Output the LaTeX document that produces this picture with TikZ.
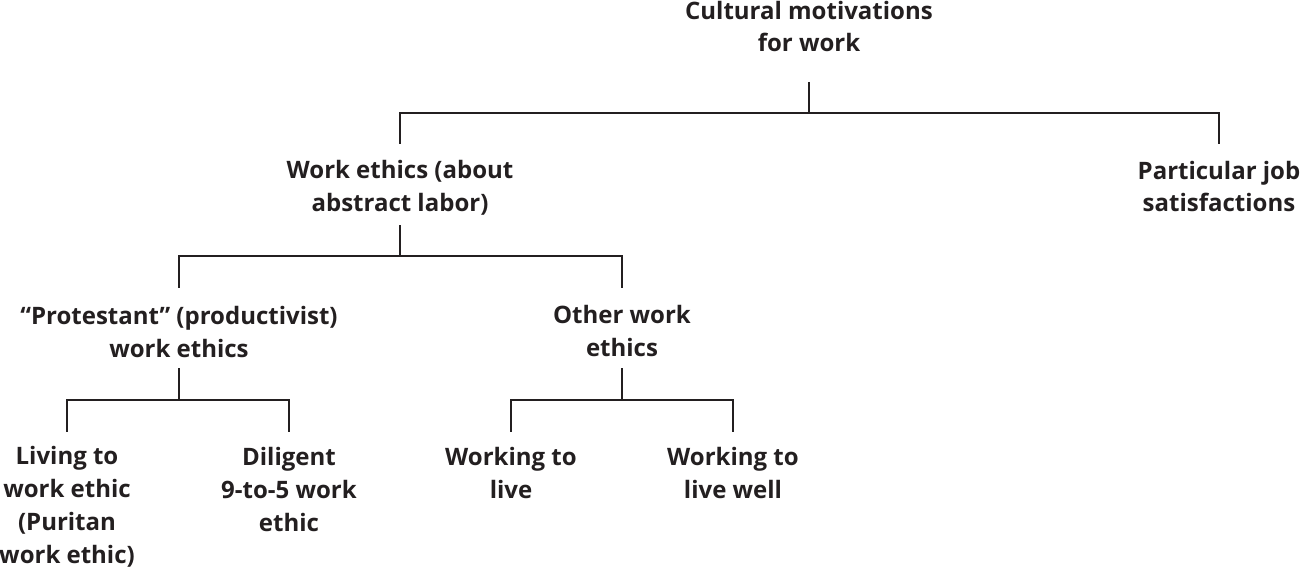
\documentclass[tikz,border=0pt]{standalone}
\usepackage{fontspec}
\setmainfont{Open Sans}
\usepackage{tikz}
\usetikzlibrary{positioning}
\definecolor{ink}{HTML}{231F20}

\begin{document}
\begin{tikzpicture}[
    x=0.5pt, y=-0.5pt,
    label/.style={inner sep=0pt, anchor=base, align=center, text=ink, font=\fontsize{12}{16.4}\selectfont\bfseries},
    link/.style={draw=ink, line width=1pt}
]
\useasboundingbox (0,0) rectangle (1301,567);

% Noeuds (base = derniere ligne)
\node[label] (root) at (809,52) {Cultural motivations\\for work};
\node[label] (ethics) at (400,211) {Work ethics (about\\abstract labor)};
\node[label] (job) at (1219,212) {Particular job\\satisfactions};
\node[label] (prot) at (179,357) {“Protestant” (productivist)\\work ethics};
\node[label] (other) at (622,356) {Other work\\ethics};
\node[label] (living) at (67,563) {Living to\\work ethic\\(Puritan\\work ethic)};
\node[label] (diligent) at (289,531) {Diligent\\9-to-5 work\\ethic};
\node[label] (wlive) at (511,498) {Working to\\live};
\node[label] (wwell) at (733,498) {Working to\\live well};

% Embranchements
\coordinate (j0) at (809,113);
\coordinate (j1) at (400,256);
\coordinate (j2) at (179,400);
\coordinate (j3) at (622,400);

\draw[link] (root |- 0,82) -- (j0) -| (ethics |- 0,144);
\draw[link] (j0) -| (job |- 0,144);
\draw[link] (ethics |- 0,225) -- (j1) -| (prot |- 0,288);
\draw[link] (j1) -| (other |- 0,288);
\draw[link] (prot |- 0,368) -- (j2) -| (living |- 0,432);
\draw[link] (j2) -| (diligent |- 0,432);
\draw[link] (other |- 0,368) -- (j3) -| (wlive |- 0,432);
\draw[link] (j3) -| (wwell |- 0,432);
\end{tikzpicture}
\end{document}
